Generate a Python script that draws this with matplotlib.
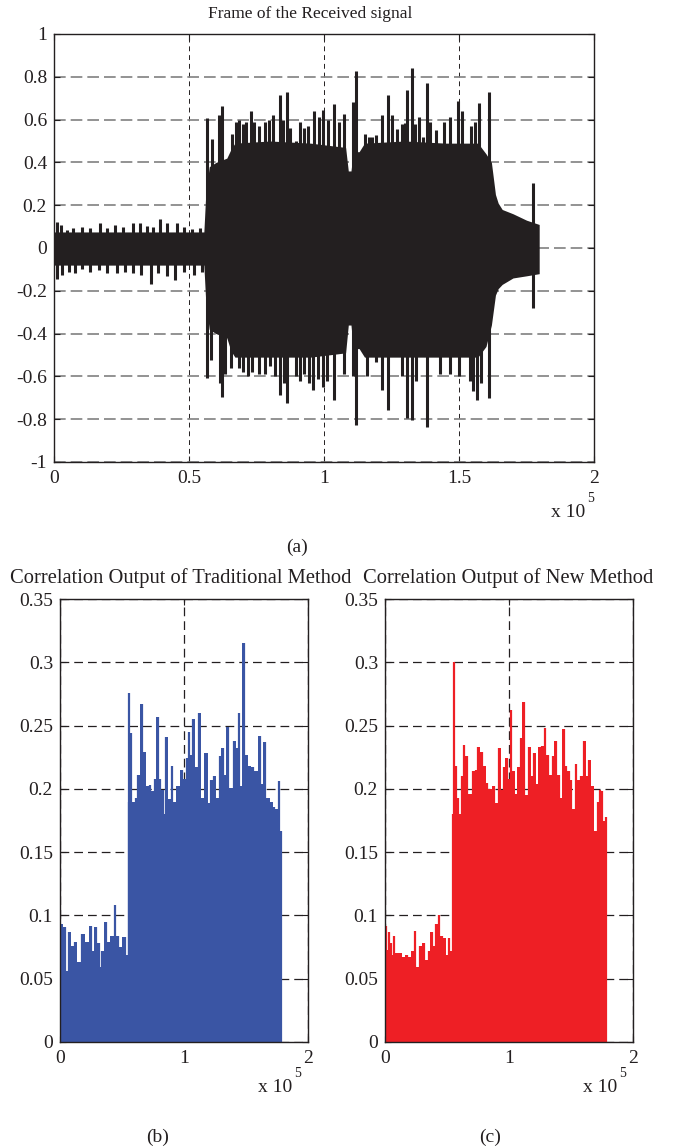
import numpy as np
import matplotlib
matplotlib.use("Agg")
import matplotlib.pyplot as plt

plt.rcParams['font.family'] = ['Liberation Serif', 'DejaVu Serif']
plt.rcParams['axes.unicode_minus'] = False

# ---- (a) received frame, x in units of 1e5 samples ----
# solid body of the waveform (envelope under the spikes)
body_x = [0, 0.555, 0.562, 0.575, 0.60, 0.64, 0.655, 0.67, 0.80, 0.95, 1.08, 1.09,
          1.10, 1.108, 1.13, 1.15, 1.30, 1.45, 1.57, 1.60, 1.62, 1.635, 1.645, 1.66,
          1.70, 1.75, 1.797]
body_hi = [0.075, 0.075, 0.25, 0.38, 0.40, 0.42, 0.46, 0.49, 0.50, 0.49, 0.47, 0.36,
           0.36, 0.45, 0.45, 0.49, 0.50, 0.49, 0.49, 0.44, 0.40, 0.25, 0.21, 0.18,
           0.16, 0.13, 0.11]
body_lo = [-0.08, -0.08, -0.25, -0.38, -0.40, -0.42, -0.48, -0.51, -0.51, -0.51, -0.49, -0.36,
           -0.36, -0.47, -0.47, -0.51, -0.51, -0.51, -0.51, -0.46, -0.36, -0.22, -0.19, -0.17,
           -0.14, -0.13, -0.12]

up_x = [0.01, 0.025, 0.047, 0.072, 0.103, 0.133, 0.17, 0.195, 0.225, 0.257, 0.293, 0.318,
        0.343, 0.368, 0.393, 0.417, 0.455, 0.48, 0.51, 0.54,
        0.568, 0.584, 0.612, 0.623, 0.633, 0.658, 0.674, 0.684, 0.70, 0.71, 0.728, 0.74,
        0.76, 0.78, 0.795, 0.81, 0.837, 0.847, 0.862, 0.874, 0.897, 0.91, 0.925, 0.94,
        0.963, 0.98, 0.997, 1.016, 1.037, 1.057, 1.074, 1.108, 1.117, 1.152, 1.165, 1.176,
        1.194, 1.214, 1.236, 1.253, 1.27, 1.288, 1.30, 1.309, 1.325, 1.337, 1.35, 1.368,
        1.38, 1.394, 1.413, 1.444, 1.466, 1.497, 1.51, 1.546, 1.56, 1.574, 1.611, 1.775]
up_y = [0.123, 0.107, 0.086, 0.093, 0.10, 0.093, 0.115, 0.093, 0.107, 0.10, 0.118, 0.115,
        0.104, 0.10, 0.135, 0.115, 0.118, 0.097, 0.09, 0.093,
        0.606, 0.51, 0.62, 0.665, 0.39, 0.535, 0.59, 0.60, 0.58, 0.59, 0.64, 0.59,
        0.57, 0.59, 0.60, 0.62, 0.715, 0.60, 0.73, 0.56, 0.50, 0.59, 0.56, 0.57,
        0.64, 0.61, 0.645, 0.60, 0.673, 0.59, 0.625, 0.684, 0.828, 0.535, 0.52, 0.52,
        0.53, 0.62, 0.715, 0.62, 0.555, 0.58, 0.585, 0.738, 0.842, 0.58, 0.61, 0.52,
        0.773, 0.59, 0.55, 0.59, 0.61, 0.688, 0.64, 0.57, 0.59, 0.679, 0.731, 0.302]

dn_x = [0.01, 0.029, 0.054, 0.079, 0.103, 0.133, 0.165, 0.195, 0.232, 0.263, 0.293, 0.324,
        0.359, 0.387, 0.417, 0.449, 0.48, 0.517, 0.548,
        0.568, 0.58, 0.614, 0.623, 0.633, 0.654, 0.686, 0.70, 0.72, 0.735, 0.76, 0.78,
        0.80, 0.82, 0.837, 0.85, 0.862, 0.897, 0.91, 0.925, 0.945, 0.96, 0.977, 0.995,
        1.01, 1.037, 1.074, 1.108, 1.117, 1.158, 1.194, 1.216, 1.236, 1.29, 1.309, 1.325,
        1.34, 1.38, 1.43, 1.466, 1.50, 1.54, 1.553, 1.565, 1.58, 1.611, 1.775]
dn_y = [-0.147, -0.125, -0.11, -0.117, -0.1, -0.11, -0.104, -0.117, -0.117, -0.11, -0.117, -0.125,
        -0.167, -0.117, -0.13, -0.15, -0.11, -0.125, -0.11,
        -0.609, -0.523, -0.632, -0.695, -0.59, -0.56, -0.56, -0.58, -0.60, -0.58, -0.59, -0.59,
        -0.55, -0.60, -0.687, -0.63, -0.724, -0.60, -0.62, -0.59, -0.63, -0.665, -0.61, -0.65,
        -0.62, -0.71, -0.59, -0.60, -0.827, -0.60, -0.535, -0.664, -0.757, -0.60, -0.796, -0.805,
        -0.62, -0.835, -0.59, -0.59, -0.60, -0.62, -0.67, -0.71, -0.63, -0.70, -0.28]

# ---- (b) traditional correlation: per-column maxima ----
trad_x = [0.0, 0.005, 0.038, 0.059, 0.073, 0.1, 0.119, 0.159, 0.18, 0.216, 0.248, 0.267,
          0.288, 0.315, 0.33, 0.342, 0.372, 0.39, 0.418, 0.445, 0.464, 0.485, 0.523, 0.54,
          0.553, 0.558, 0.571, 0.593, 0.612, 0.633, 0.663, 0.679, 0.706, 0.728, 0.747, 0.765,
          0.787, 0.809, 0.827, 0.841, 0.857, 0.881, 0.906, 0.922, 0.949, 0.981, 1.003, 1.022,
          1.043, 1.057, 1.075, 1.097, 1.124, 1.151, 1.178, 1.205, 1.218, 1.245, 1.272,
          1.288, 1.313, 1.332, 1.353, 1.38, 1.407, 1.426, 1.442, 1.461, 1.482, 1.501,
          1.528, 1.555, 1.58, 1.609, 1.628, 1.65, 1.677, 1.704, 1.725, 1.747, 1.765, 1.779]
trad_y = [0.085, 0.093, 0.091, 0.056, 0.087, 0.076, 0.079, 0.063, 0.085, 0.079, 0.092, 0.072,
          0.091, 0.078, 0.059, 0.072, 0.095, 0.079, 0.084, 0.108, 0.084, 0.075, 0.083, 0.069,
          0.19, 0.276, 0.244, 0.19, 0.193, 0.211, 0.267, 0.229, 0.202, 0.203, 0.198, 0.208,
          0.257, 0.208, 0.199, 0.18, 0.241, 0.192, 0.218, 0.19, 0.202, 0.215, 0.208, 0.224,
          0.245, 0.227, 0.255, 0.217, 0.26, 0.193, 0.228, 0.189, 0.207, 0.21, 0.193,
          0.226, 0.232, 0.211, 0.249, 0.201, 0.238, 0.232, 0.26, 0.202, 0.315, 0.227,
          0.218, 0.217, 0.214, 0.242, 0.204, 0.237, 0.193, 0.19, 0.186, 0.184, 0.206, 0.167]

# ---- (c) new method correlation ----
new_x = [0.0, 0.005, 0.019, 0.032, 0.046, 0.057, 0.075, 0.094, 0.121, 0.148, 0.175, 0.202,
         0.223, 0.245, 0.261, 0.283, 0.315, 0.336, 0.353, 0.377, 0.396, 0.412, 0.436, 0.458,
         0.479, 0.498, 0.517, 0.538, 0.552,
         0.557, 0.573, 0.592, 0.606, 0.619, 0.638, 0.659, 0.686, 0.713, 0.732, 0.754,
         0.781, 0.80, 0.821, 0.848, 0.875, 0.896, 0.923, 0.942, 0.961, 0.982, 1.0,
         1.017, 1.036, 1.058, 1.077, 1.096, 1.117, 1.139, 1.163, 1.184, 1.203, 1.225,
         1.246, 1.27, 1.292, 1.311, 1.332, 1.354, 1.375, 1.4, 1.418, 1.44, 1.462, 1.48,
         1.499, 1.521, 1.54, 1.561, 1.58, 1.607, 1.629, 1.647, 1.669, 1.696, 1.717,
         1.736, 1.75, 1.763, 1.779]
new_y = [0.085, 0.092, 0.073, 0.087, 0.078, 0.069, 0.084, 0.07, 0.07, 0.067, 0.069, 0.067,
         0.072, 0.088, 0.059, 0.076, 0.078, 0.065, 0.072, 0.087, 0.076, 0.093, 0.10, 0.084,
         0.082, 0.069, 0.082, 0.072, 0.18,
         0.30, 0.218, 0.193, 0.18, 0.21, 0.235, 0.226, 0.196, 0.214, 0.215, 0.233,
         0.229, 0.218, 0.205, 0.20, 0.202, 0.189, 0.232, 0.199, 0.217, 0.224, 0.208,
         0.262, 0.214, 0.196, 0.217, 0.24, 0.269, 0.195, 0.233, 0.21, 0.228, 0.204,
         0.233, 0.234, 0.248, 0.227, 0.211, 0.226, 0.238, 0.211, 0.193, 0.247, 0.218, 0.214,
         0.207, 0.184, 0.22, 0.207, 0.21, 0.238, 0.21, 0.223, 0.202, 0.167, 0.19,
         0.199, 0.198, 0.175, 0.178]

a_xticks = [0, 0.5, 1, 1.5, 2]
a_xlabels = ['0', '0.5', '1', '1.5', '2']
a_yticks = [-1, -0.8, -0.6, -0.4, -0.2, 0, 0.2, 0.4, 0.6, 0.8, 1]
a_ylabels = ['-1', '-0.8', '-0.6', '-0.4', '-0.2', '0', '0.2', '0.4', '0.6', '0.8', '1']
bc_xticks = [0, 1, 2]
bc_xlabels = ['0', '1', '2']
bc_yticks = [0, 0.05, 0.1, 0.15, 0.2, 0.25, 0.3, 0.35]
bc_ylabels = ['0', '0.05', '0.1', '0.15', '0.2', '0.25', '0.3', '0.35']

BLACK = '#231f20'
BLUE = '#3a55a4'
RED = '#ee1f25'

W, H = 673, 1148
fig = plt.figure(figsize=(W / 100, H / 100), dpi=100)


def px_axes(left, top, right, bottom):
    return fig.add_axes([left / W, 1 - bottom / H, (right - left) / W, (bottom - top) / H])


def style(ax, fs):
    ax.set_axisbelow(True)
    ax.tick_params(direction='in', length=4, width=0.8, labelsize=fs, top=True, right=True,
                   colors=BLACK)
    ax.tick_params(axis='y', pad=5)
    ax.tick_params(axis='x', pad=6)
    for s in ax.spines.values():
        s.set_linewidth(1.0)
        s.set_color(BLACK)


def exponent(x_right, y_base):
    # MATLAB style "x 10^5" under the right end of the x axis
    fig.text(x_right / W, 1 - y_base / H, 'x 10', ha='right', va='baseline', fontsize=14,
             color=BLACK)
    fig.text((x_right + 2) / W, 1 - (y_base - 15) / H, '5', ha='left', va='baseline',
             fontsize=10, color=BLACK)


# (a)
ax = px_axes(54, 34, 594, 462)
ax.fill_between(body_x, body_lo, body_hi, color=BLACK, lw=0)
ax.vlines(up_x, 0, up_y, color=BLACK, lw=2.2)
ax.vlines(dn_x, dn_y, 0, color=BLACK, lw=2.2)
ax.set_xlim(0, 2)
ax.set_ylim(-1, 1)
ax.set_xticks(a_xticks, a_xlabels)
ax.set_yticks(a_yticks, a_ylabels)
ax.yaxis.grid(True, color='0.5', ls=(0, (7, 3)), lw=1.2)
ax.xaxis.grid(True, color=BLACK, ls=(0, (5, 4)), lw=0.7)
style(ax, 14)
ax.text((310 - 54) / 540, 1 + 16 / 428, 'Frame of the Received signal', transform=ax.transAxes,
        ha='center', va='baseline', fontsize=12.5, color=BLACK)
exponent(585, 517)
fig.text(297 / W, 1 - 547 / H, '(a)', ha='center', va='center', fontsize=14, color=BLACK)

# (b) and (c)
panels = [
    (60, 308, trad_x, trad_y, BLUE, 'Correlation Output of Traditional Method', 180.5, '(b)', 158),
    (385, 633, new_x, new_y, RED, 'Correlation Output of New Method', 508, '(c)', 490),
]
for left, right, cx, cy, col, title, title_x, tag, tag_x in panels:
    ax = px_axes(left, 599, right, 1042)
    ax.fill_between(cx, 0, cy, step='mid', color=col, lw=0)
    ax.vlines(cx, 0, cy, color=col, lw=1.6)
    ax.set_xlim(0, 2)
    ax.set_ylim(0, 0.35)
    ax.set_xticks(bc_xticks, bc_xlabels)
    ax.set_yticks(bc_yticks, bc_ylabels)
    ax.grid(True, color=BLACK, ls=(0, (7, 4)), lw=0.9)
    style(ax, 14)
    ax.text((title_x - left) / (right - left), 1 + 16 / 443, title, transform=ax.transAxes,
            ha='center', va='baseline', fontsize=14.8, color=BLACK)
    exponent(right - 16, 1092)
    fig.text(tag_x / W, 1 - 1137 / H, tag, ha='center', va='center', fontsize=14, color=BLACK)

fig.savefig('out.png', dpi=100)
